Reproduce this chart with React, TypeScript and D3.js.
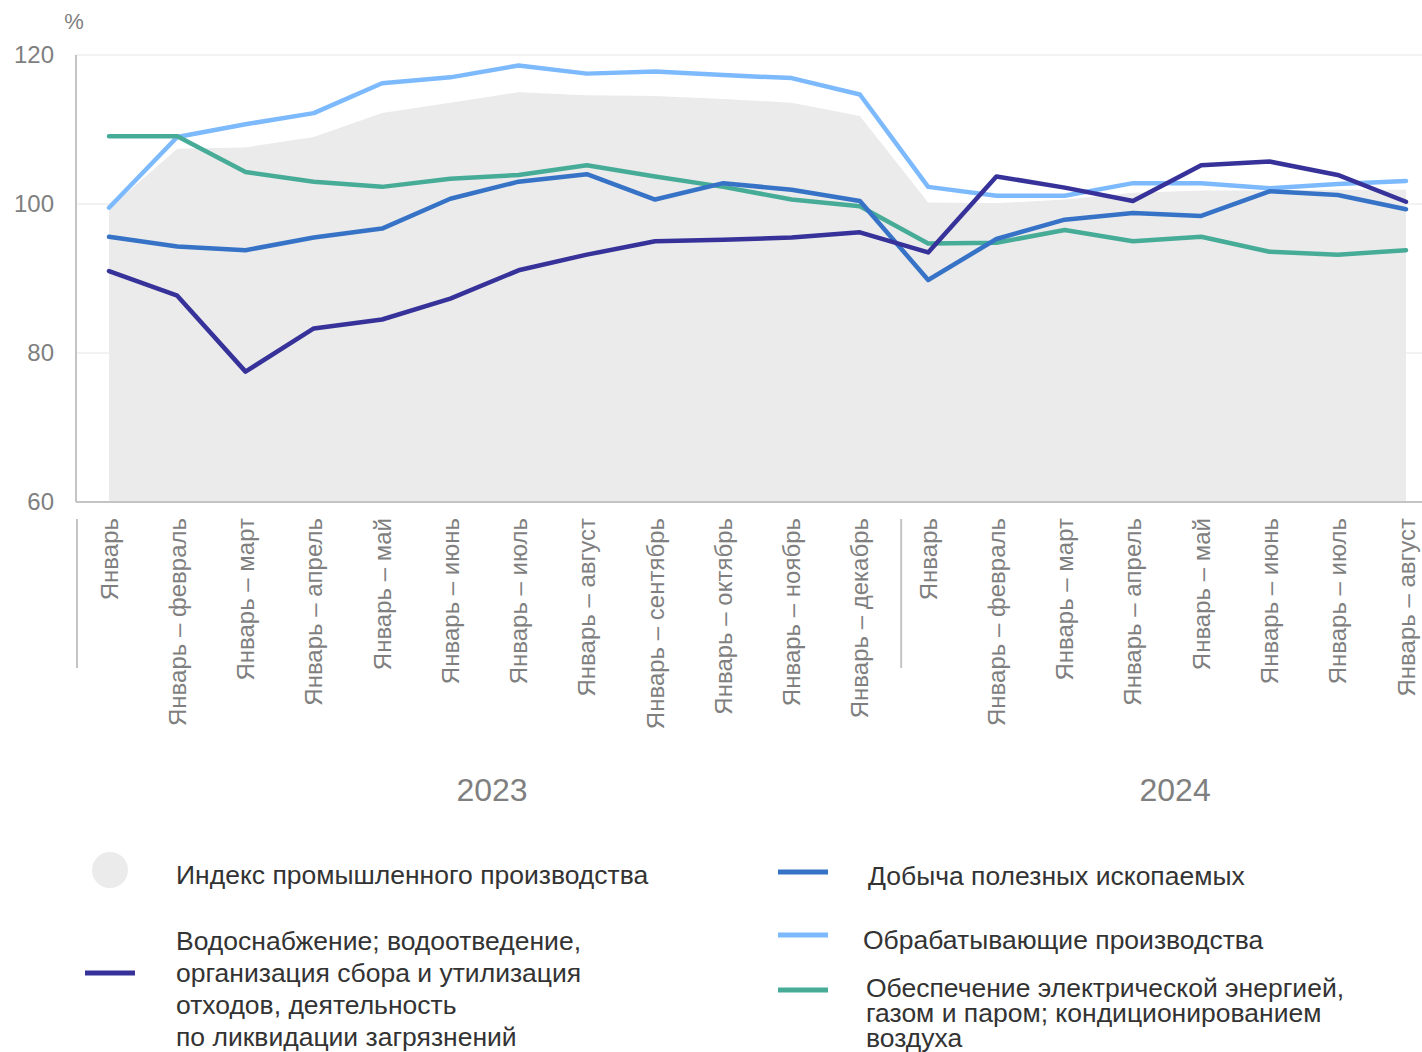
import React, { useEffect, useRef } from 'react';
import * as d3 from 'd3';

const periods = [
  'Январь', 'Январь – февраль', 'Январь – март', 'Январь – апрель', 'Январь – май',
  'Январь – июнь', 'Январь – июль', 'Январь – август', 'Январь – сентябрь',
  'Январь – октябрь', 'Январь – ноябрь', 'Январь – декабрь',
  'Январь', 'Январь – февраль', 'Январь – март', 'Январь – апрель', 'Январь – май',
  'Январь – июнь', 'Январь – июль', 'Январь – август',
];
const years = ['2023', '2024'];
const yearSizes = [12, 8];
const yTicks = [60, 80, 100, 120];

const industryIndex = [99.4, 107.4, 107.6, 109.0, 112.2, 113.6, 115.0, 114.6, 114.5, 114.1, 113.6, 111.8,
  100.2, 100.1, 100.6, 101.5, 101.8, 101.8, 101.9, 101.9];
const mining = [95.6, 94.3, 93.8, 95.5, 96.7, 100.7, 103.0, 104.0, 100.6, 102.8, 101.9, 100.4,
  89.8, 95.3, 97.9, 98.8, 98.4, 101.7, 101.2, 99.3];
const manufacturing = [99.5, 109.0, 110.7, 112.2, 116.2, 117.0, 118.6, 117.5, 117.8, 117.3, 116.9, 114.7,
  102.3, 101.1, 101.1, 102.8, 102.8, 102.1, 102.7, 103.1];
const electricity = [109.1, 109.1, 104.3, 103.0, 102.3, 103.4, 103.9, 105.2, 103.7, 102.3, 100.6, 99.7,
  94.7, 94.8, 96.5, 95.0, 95.6, 93.6, 93.2, 93.8];
const water = [91.0, 87.7, 77.5, 83.3, 84.5, 87.3, 91.1, 93.2, 95.0, 95.2, 95.5, 96.2,
  93.5, 103.7, 102.2, 100.4, 105.2, 105.7, 103.9, 100.3];

const lineSeries = [
  { name: 'manufacturing', values: manufacturing, color: '#7dbafd' },
  { name: 'electricity', values: electricity, color: '#47ac97' },
  { name: 'mining', values: mining, color: '#3673c7' },
  { name: 'water', values: water, color: '#363299' },
];

const FONT = '"Liberation Sans", Arial, sans-serif';

const App: React.FC = () => {
  const svgRef = useRef<SVGSVGElement>(null);

  useEffect(() => {
    if (!svgRef.current) return;
    const svg = d3.select(svgRef.current);
    svg.selectAll('*').remove();

    const left = 76, right = 1422, top = 55, bottom = 502;
    const x = d3.scalePoint<number>().domain(d3.range(periods.length)).range([109, 1406]);
    const y = d3.scaleLinear().domain([60, 120]).range([bottom, top]);

    // grid
    svg.append('g').selectAll('line').data(yTicks.slice(1)).enter().append('line')
      .attr('x1', left).attr('x2', right)
      .attr('y1', d => y(d)).attr('y2', d => y(d))
      .attr('stroke', '#e6e6e6').attr('stroke-width', 1);

    // area - industrial production index
    const area = d3.area<number>()
      .x((_, i) => x(i)!)
      .y0(y(60))
      .y1(d => y(d));
    svg.append('path').datum(industryIndex)
      .attr('d', area)
      .attr('fill', '#ebebeb');

    // axes
    svg.append('line').attr('x1', left).attr('x2', left).attr('y1', top).attr('y2', bottom)
      .attr('stroke', '#c4c4c4').attr('stroke-width', 2);
    svg.append('line').attr('x1', left).attr('x2', right).attr('y1', bottom).attr('y2', bottom)
      .attr('stroke', '#c4c4c4').attr('stroke-width', 2);

    svg.append('g').selectAll('text').data(yTicks).enter().append('text')
      .attr('x', 54).attr('y', d => y(d)).attr('dy', '0.35em')
      .attr('text-anchor', 'end')
      .attr('font-family', FONT).attr('font-size', 24).attr('fill', '#7f7f7f')
      .text(d => d);
    svg.append('text').attr('x', 74).attr('y', 29).attr('text-anchor', 'middle')
      .attr('font-family', FONT).attr('font-size', 22).attr('fill', '#7f7f7f').text('%');

    // lines
    const line = d3.line<number>().x((_, i) => x(i)!).y(d => y(d));
    lineSeries.forEach(s => {
      svg.append('path').datum(s.values)
        .attr('d', line)
        .attr('fill', 'none')
        .attr('stroke', s.color)
        .attr('stroke-width', 4.5)
        .attr('stroke-linejoin', 'round')
        .attr('stroke-linecap', 'round');
    });

    // x labels
    svg.append('g').selectAll('text').data(periods).enter().append('text')
      .attr('transform', (_, i) => `translate(${x(i)! + 8.5},518) rotate(-90)`)
      .attr('text-anchor', 'end')
      .attr('font-family', FONT).attr('font-size', 24).attr('fill', '#7f7f7f')
      .text(d => d);

    // year groups
    let start = 0;
    years.forEach((yr, gi) => {
      const n = yearSizes[gi];
      const sepX = start === 0 ? left + 1 : x(start)! - 27;
      svg.append('line').attr('x1', sepX).attr('x2', sepX).attr('y1', 519).attr('y2', 668)
        .attr('stroke', '#c4c4c4').attr('stroke-width', 2);
      const cx = start === 0 ? 492 : (x(start)! + x(start + n - 1)!) / 2 + 8;
      svg.append('text').attr('x', cx).attr('y', 801).attr('text-anchor', 'middle')
        .attr('font-family', FONT).attr('font-size', 32).attr('fill', '#7f7f7f').text(yr);
      start += n;
    });

    // legend
    const lg = svg.append('g').attr('font-family', FONT).attr('font-size', 26.5).attr('fill', '#333');
    lg.append('circle').attr('cx', 110).attr('cy', 870).attr('r', 18).attr('fill', '#ebebeb');
    lg.append('text').attr('x', 176).attr('y', 884).text('Индекс промышленного производства');

    lg.append('line').attr('x1', 85).attr('x2', 135).attr('y1', 973).attr('y2', 973)
      .attr('stroke', '#363299').attr('stroke-width', 5);
    ['Водоснабжение; водоотведение,', 'организация сбора и утилизация', 'отходов, деятельность', 'по ликвидации загрязнений']
      .forEach((t, i) => lg.append('text').attr('x', 176).attr('y', 950 + i * 32).text(t));

    lg.append('line').attr('x1', 778).attr('x2', 828).attr('y1', 872).attr('y2', 872)
      .attr('stroke', '#3673c7').attr('stroke-width', 5);
    lg.append('text').attr('x', 868).attr('y', 885).text('Добыча полезных ископаемых');

    lg.append('line').attr('x1', 778).attr('x2', 828).attr('y1', 935).attr('y2', 935)
      .attr('stroke', '#7dbafd').attr('stroke-width', 5);
    lg.append('text').attr('x', 863).attr('y', 949).text('Обрабатывающие производства');

    lg.append('line').attr('x1', 778).attr('x2', 828).attr('y1', 990).attr('y2', 990)
      .attr('stroke', '#47ac97').attr('stroke-width', 5);
    ['Обеспечение электрической энергией,', 'газом и паром; кондиционированием', 'воздуха']
      .forEach((t, i) => lg.append('text').attr('x', 866).attr('y', 997 + i * 25).text(t));
  }, []);

  return (
    <div style={{ position: 'absolute', left: 0, top: 0 }}>
      <svg ref={svgRef} width={1422} height={1052} style={{ display: 'block', background: '#fff' }} />
    </div>
  );
};

export default App;
